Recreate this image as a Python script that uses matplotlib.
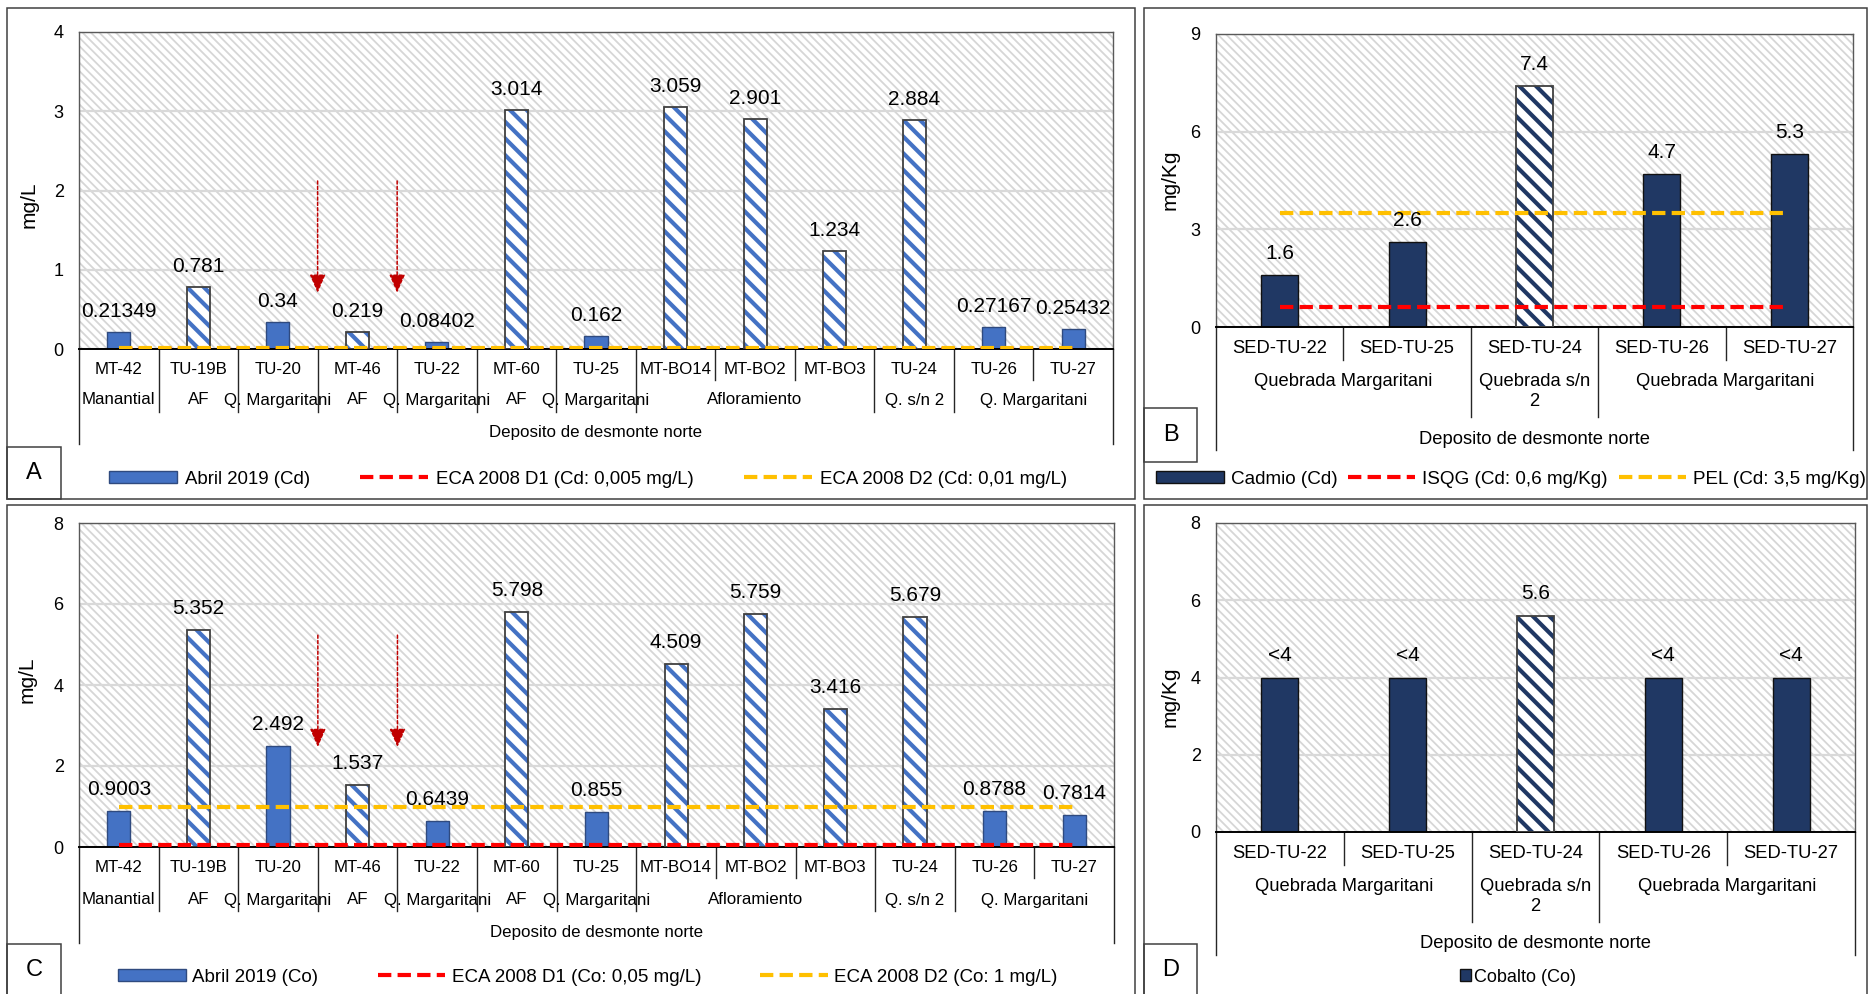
import numpy as np
import matplotlib
matplotlib.use('Agg')
import matplotlib.pyplot as plt
from matplotlib import transforms
from matplotlib.patches import Rectangle, Patch

plt.rcParams['font.family'] = ['Liberation Sans', 'DejaVu Sans']
plt.rcParams['hatch.linewidth'] = 2.5

W, H = 1870, 994

# water samples (panels A and C)
water_sites = ['MT-42', 'TU-19B', 'TU-20', 'MT-46', 'TU-22', 'MT-60', 'TU-25',
               'MT-BO14', 'MT-BO2', 'MT-BO3', 'TU-24', 'TU-26', 'TU-27']
water_groups = ['Manantial', 'AF', 'Q. Margaritani', 'AF', 'Q. Margaritani', 'AF',
                'Q. Margaritani', 'Afloramiento', 'Q. s/n 2', 'Q. Margaritani']
water_group_sizes = [1, 1, 1, 1, 1, 1, 1, 3, 1, 2]
water_hatched = [False, True, False, True, False, True, False, True, True, True, True, False, False]
cd_water = [0.21349, 0.781, 0.34, 0.219, 0.08402, 3.014, 0.162, 3.059, 2.901, 1.234, 2.884, 0.27167, 0.25432]
co_water = [0.9003, 5.352, 2.492, 1.537, 0.6439, 5.798, 0.855, 4.509, 5.759, 3.416, 5.679, 0.8788, 0.7814]
cd_eca_d1, cd_eca_d2 = 0.005, 0.01
co_eca_d1, co_eca_d2 = 0.05, 1.0

# sediment samples (panels B and D)
sed_sites = ['SED-TU-22', 'SED-TU-25', 'SED-TU-24', 'SED-TU-26', 'SED-TU-27']
sed_groups = ['Quebrada Margaritani', 'Quebrada s/n\n2', 'Quebrada Margaritani']
sed_group_sizes = [2, 1, 2]
sed_hatched = [False, False, True, False, False]
cd_sed = [1.6, 2.6, 7.4, 4.7, 5.3]
cd_isqg, cd_pel = 0.6, 3.5
co_sed = [4, 4, 5.6, 4, 4]
co_sed_labels = ['<4', '<4', '5.6', '<4', '<4']

# dotted arrows between TU-20 / MT-46 / TU-22 (top, tip)
arrow_x = [2.5, 3.5]
cd_arrow = (2.12, 0.71)
co_arrow = (5.23, 2.47)

BLUE = '#4472C4'
NAVY = '#203864'
RED = '#FF0000'
ORANGE = '#FFC000'
DASH = (0, (3.2, 1.5))
BG_HATCH = '\\' * 4
BAR_HATCH = '\\' * 2

fig = plt.figure(figsize=(W / 100, H / 100), dpi=100)


def fx(x):
    return x / W


def fy(y):
    return 1 - y / H


def frame(x0, y0, x1, y1, letter=None):
    fig.add_artist(Rectangle((fx(x0), fy(y1)), fx(x1) - fx(x0), fy(y0) - fy(y1),
                             transform=fig.transFigure, fill=False, ec='#404040', lw=1.1))
    if letter:
        fig.text(fx((x0 + x1) / 2), fy((y0 + y1) / 2), letter, ha='center', va='center', fontsize=17)


def set_hatch_lw(patch, lw):
    if hasattr(patch, 'set_hatch_linewidth'):
        patch.set_hatch_linewidth(lw)


def make_axes(box, ylim, yticks):
    left, top, right, bottom = box
    ax = fig.add_axes([fx(left), fy(bottom), fx(right) - fx(left), fy(top) - fy(bottom)])
    with plt.rc_context({'hatch.linewidth': 1.3}):
        bg = Rectangle((0, 0), 1, 1, transform=ax.transAxes, facecolor='white',
                       edgecolor='#D6D6D6', lw=0, hatch=BG_HATCH, zorder=0.2)
    set_hatch_lw(bg, 1.3)
    ax.add_patch(bg)
    ax.set_ylim(*ylim)
    ax.set_yticks(yticks)
    ax.set_axisbelow(True)
    ax.yaxis.grid(True, color='#D9D9D9', lw=1.6)
    ax.tick_params(axis='y', length=0, pad=11, labelsize=13)
    ax.set_xticks([])
    for side in ['top', 'right', 'left']:
        ax.spines[side].set_color('#595959')
        ax.spines[side].set_linewidth(1.0)
    ax.spines['bottom'].set_color('black')
    ax.spines['bottom'].set_linewidth(1.4)
    return ax


def draw_bars(ax, values, hatched, color, edge):
    for xi, v, h in zip(np.arange(len(values)), values, hatched):
        if h:
            with plt.rc_context({'hatch.linewidth': 3.0}):
                b = ax.bar(xi, v, 0.29, color='white', edgecolor=color, lw=0,
                           hatch=BAR_HATCH, zorder=2)[0]
            set_hatch_lw(b, 3.0)
            ax.bar(xi, v, 0.29, fill=False, edgecolor='#404040', lw=1.3, zorder=3)
        else:
            ax.bar(xi, v, 0.29, color=color, edgecolor=edge, lw=1.0, zorder=2)
    ax.set_xlim(-0.5, len(values) - 0.5)


def value_labels(ax, values, texts, fs=15, offset=11):
    for xi, (v, t) in enumerate(zip(values, texts)):
        ax.annotate(t, (xi, v), xytext=(0, offset), textcoords='offset points',
                    ha='center', va='baseline', fontsize=fs, zorder=6)


def ref_line(ax, n, level, color, label):
    line, = ax.plot(np.arange(n), np.full(n, level), color=color, lw=3, ls=DASH,
                    zorder=4, label=label)
    return line


def arrows(ax, span):
    top, tip = span
    for xa in arrow_x:
        ax.annotate('', xy=(xa, tip), xytext=(xa, top),
                    arrowprops=dict(arrowstyle='-|>,head_length=0.8,head_width=0.35',
                                    color='#C00000', lw=1.1, linestyle=(0, (2, 1.5)),
                                    shrinkA=0, shrinkB=0, mutation_scale=14), zorder=5)


def category_rows(ax, sites, groups, sizes, rows, fs, group_va='center'):
    tr = transforms.blended_transform_factory(ax.transData, fig.transFigure)
    n = len(sites)
    y0 = fy(rows['y0'])

    def divider(b, yb):
        ax.plot([b, b], [y0, fy(yb)], transform=tr, color='#262626', lw=1.0, clip_on=False)

    for i, s in enumerate(sites):
        ax.text(i, fy(rows['r1']), s, transform=tr, ha='center', va='center', fontsize=fs)
    start = 0
    for g, k in zip(groups, sizes):
        ax.text(start + (k - 1) / 2, fy(rows['r2']), g, transform=tr, ha='center',
                va=group_va, fontsize=fs, linespacing=1.2)
        for j in range(1, k):
            divider(start + j - 0.5, rows['short'])
        start += k
        if start < n:
            divider(start - 0.5, rows['group'])
    divider(-0.5, rows['outer'])
    divider(n - 0.5, rows['outer'])
    ax.text((n - 1) / 2, fy(rows['title']), 'Deposito de desmonte norte', transform=tr,
            ha='center', va='center', fontsize=fs)


def legend_at(handles, labels, cx, cy, fs, **kw):
    fig.legend(handles, labels, loc='center', bbox_to_anchor=(fx(cx), fy(cy)),
               frameon=False, fontsize=fs, ncol=len(handles), borderaxespad=0,
               borderpad=0, **kw)


# ---- A: cadmio en agua ----
frame(7, 8, 1135, 499)
frame(7, 447, 61, 499, 'A')
axA = make_axes((79, 32, 1113, 349), (0, 4), range(5))
draw_bars(axA, cd_water, water_hatched, BLUE, '#2F4A7F')
value_labels(axA, cd_water, [f'{v:g}' for v in cd_water], offset=10.8)
la1 = ref_line(axA, len(water_sites), cd_eca_d1, RED, 'ECA 2008 D1 (Cd: 0,005 mg/L)')
la2 = ref_line(axA, len(water_sites), cd_eca_d2, ORANGE, 'ECA 2008 D2 (Cd: 0,01 mg/L)')
arrows(axA, cd_arrow)
category_rows(axA, water_sites, water_groups, water_group_sizes,
              dict(y0=349, r1=370, r2=400, short=380, group=412, outer=444, title=433), 12.2)
fig.text(fx(29), fy(205), 'mg/L', rotation=90, ha='center', va='center', fontsize=15)
legend_at([Patch(facecolor=BLUE, edgecolor='#2F4A7F'), la1, la2],
          ['Abril 2019 (Cd)', la1.get_label(), la2.get_label()], 588, 479, 13.4,
          handlelength=3.66, handleheight=0.6, handletextpad=0.43, columnspacing=2.7)

# ---- B: cadmio en sedimento ----
frame(1144, 8, 1867, 499)
frame(1144, 408, 1197, 462, 'B')
axB = make_axes((1216, 34, 1853, 327), (0, 9), [0, 3, 6, 9])
draw_bars(axB, cd_sed, sed_hatched, NAVY, '#111111')
value_labels(axB, cd_sed, [f'{v:g}' for v in cd_sed], offset=11.5)
lb1 = ref_line(axB, len(sed_sites), cd_isqg, RED, 'ISQG (Cd: 0,6 mg/Kg)')
lb2 = ref_line(axB, len(sed_sites), cd_pel, ORANGE, 'PEL (Cd: 3,5 mg/Kg)')
category_rows(axB, sed_sites, sed_groups, sed_group_sizes,
              dict(y0=327, r1=348, r2=373, short=360, group=417, outer=450, title=439), 13.2,
              group_va='top')
fig.text(fx(1170), fy(180), 'mg/Kg', rotation=90, ha='center', va='center', fontsize=15)
legend_at([Patch(facecolor=NAVY, edgecolor='#111111'), lb1, lb2],
          ['Cadmio (Cd)', lb1.get_label(), lb2.get_label()], 1511, 479, 13.6,
          handlelength=3.55, handleheight=0.6, handletextpad=0.37, columnspacing=0.58)

# ---- C: cobalto en agua ----
frame(7, 505, 1135, 996)
frame(7, 944, 61, 996, 'C')
axC = make_axes((79, 523, 1114, 847), (0, 8), [0, 2, 4, 6, 8])
draw_bars(axC, co_water, water_hatched, BLUE, '#2F4A7F')
value_labels(axC, co_water, [f'{v:g}' for v in co_water], offset=11.5)
lc1 = ref_line(axC, len(water_sites), co_eca_d1, RED, 'ECA 2008 D1 (Co: 0,05 mg/L)')
lc2 = ref_line(axC, len(water_sites), co_eca_d2, ORANGE, 'ECA 2008 D2 (Co: 1 mg/L)')
arrows(axC, co_arrow)
category_rows(axC, water_sites, water_groups, water_group_sizes,
              dict(y0=847, r1=868, r2=900, short=878, group=911, outer=943, title=932), 12.2)
fig.text(fx(27), fy(680), 'mg/L', rotation=90, ha='center', va='center', fontsize=15)
legend_at([Patch(facecolor=BLUE, edgecolor='#2F4A7F'), lc1, lc2],
          ['Abril 2019 (Co)', lc1.get_label(), lc2.get_label()], 588, 977, 13.5,
          handlelength=3.6, handleheight=0.6, handletextpad=0.35, columnspacing=3.15)

# ---- D: cobalto en sedimento ----
frame(1144, 505, 1867, 996)
frame(1144, 944, 1197, 996, 'D')
axD = make_axes((1216, 523, 1855, 832), (0, 8), [0, 2, 4, 6, 8])
draw_bars(axD, co_sed, sed_hatched, NAVY, '#111111')
value_labels(axD, co_sed, co_sed_labels, offset=12)
category_rows(axD, sed_sites, sed_groups, sed_group_sizes,
              dict(y0=832, r1=853, r2=878, short=865, group=922, outer=955, title=944), 13.2,
              group_va='top')
fig.text(fx(1170), fy(697), 'mg/Kg', rotation=90, ha='center', va='center', fontsize=15)
legend_at([Patch(facecolor=NAVY, edgecolor='#111111')], ['Cobalto (Co)'], 1518, 977, 13,
          handlelength=0.6, handleheight=0.6, handletextpad=0.15)

fig.savefig('out.png', dpi=100, facecolor='white')
